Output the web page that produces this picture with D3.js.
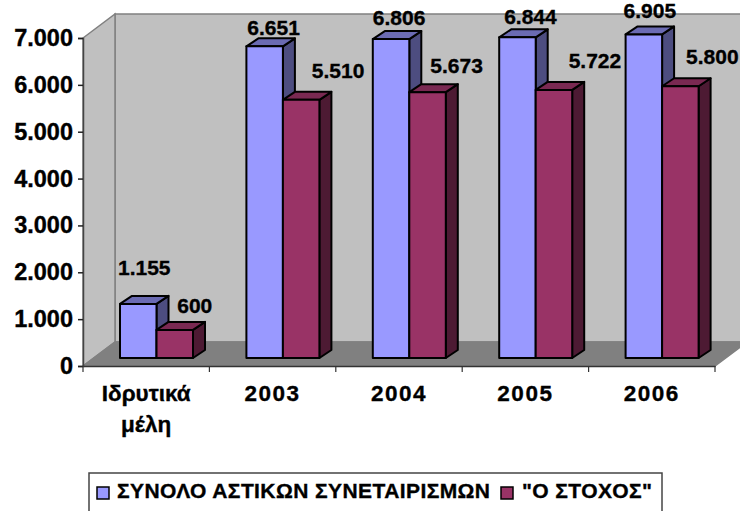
<!DOCTYPE html>
<html>
<head>
<meta charset="utf-8">
<script src="https://cdn.jsdelivr.net/npm/d3@7"></script>
<style>
    html, body { margin: 0; padding: 0; background: #fff; overflow: hidden; }
    svg { display: block; }
    text { font-family: "Liberation Sans", Arial, sans-serif; font-weight: bold; fill: #000; stroke: #000; stroke-width: 0.35px; }
</style>
</head>
<body>
<div id="chart"></div>
<script>
    const categories = ["Ιδρυτικά μέλη", "2003", "2004", "2005", "2006"];
    const seriesNames = ["ΣΥΝΟΛΟ ΑΣΤΙΚΩΝ ΣΥΝΕΤΑΙΡΙΣΜΩΝ", "\"Ο ΣΤΟΧΟΣ\""];
    const totalValues = [1155, 6651, 6806, 6844, 6905];
    const targetValues = [600, 5510, 5673, 5722, 5800];
    const yTicks = [0, 1000, 2000, 3000, 4000, 5000, 6000, 7000];

    const colors = [
        { front: "#9999ff", top: "#6b6bb3", side: "#4d4d80" },
        { front: "#993366", top: "#7a2952", side: "#4d1a33" }
    ];

    const width = 740, height = 511;
    const margin = { top: 38, right: 25, bottom: 145, left: 83 };
    const fmt = v => d3.format(",")(v).replace(/,/g, ".");

    const svg = d3.select("#chart").append("svg")
        .attr("width", width)
        .attr("height", height);

    const x = d3.scaleBand()
        .domain(categories)
        .range([margin.left, width - margin.right]);

    const inner = d3.scaleBand()
        .domain([0, 1])
        .range([0, 73]);

    const y = d3.scaleLinear()
        .domain([0, 7000])
        .range([height - margin.bottom, margin.top]);

    // walls and floor of the 3d box
    const wallDx = 32, wallDy = 24;
    const x0 = x.range()[0], x1 = x.range()[1], y0 = y(0), yTop = y(7000);
    const poly = (pts, fill, stroke) => svg.append("polygon")
        .attr("points", pts.map(p => p.join(",")).join(" "))
        .attr("fill", fill)
        .attr("stroke", stroke || "none")
        .attr("stroke-width", 1.5);

    poly([[x0 + wallDx, yTop - wallDy], [x1 + wallDx, yTop - wallDy], [x1 + wallDx, y0 - wallDy], [x0 + wallDx, y0 - wallDy]], "#c0c0c0", "#808080");
    poly([[x0, yTop], [x0 + wallDx, yTop - wallDy], [x0 + wallDx, y0 - wallDy], [x0, y0]], "#c0c0c0", "#808080");
    poly([[x0, y0], [x0 + wallDx, y0 - wallDy], [x1 + wallDx, y0 - wallDy], [x1, y0]], "#808080", "#808080");

    // axes
    const yAxis = svg.append("g")
        .attr("transform", `translate(${x0},0)`)
        .call(d3.axisLeft(y).tickValues(yTicks).tickFormat(fmt).tickSize(5).tickPadding(5));
    yAxis.select(".domain").attr("stroke", "#444").attr("stroke-width", 1.5);
    yAxis.selectAll(".tick line").attr("stroke", "#222").attr("stroke-width", 1.5);
    yAxis.selectAll("text").style("font-size", "23.5px").attr("font-family", null);

    const xAxis = svg.append("g")
        .attr("transform", `translate(0,${y0})`)
        .call(d3.axisBottom(x).tickValues([]).tickSizeOuter(0));
    xAxis.select(".domain").attr("stroke", "#333").attr("stroke-width", 1.5);
    svg.selectAll(".xtick")
        .data(x.domain().concat("end"))
        .enter().append("line")
        .attr("class", "xtick")
        .attr("x1", d => d === "end" ? x1 : x(d))
        .attr("x2", d => d === "end" ? x1 : x(d))
        .attr("y1", y0)
        .attr("y2", y0 + 6)
        .attr("stroke", "#333")
        .attr("stroke-width", 1.2);

    // category labels, the first one wraps on two lines
    categories.forEach((c, ci) => {
        const t = svg.append("text")
            .attr("text-anchor", "middle")
            .attr("x", x(c) + x.bandwidth() / 2)
            .attr("y", 401)
            .style("font-size", "22.5px")
            .style("letter-spacing", ci ? "1.5px" : null);
        c.split(" ").forEach((w, i) => {
            t.append("tspan")
                .attr("x", x(c) + x.bandwidth() / 2)
                .attr("dy", i ? 31 : 0)
                .text(w);
        });
    });

    // bars
    const barDx = 12, barDy = 8, groupX = 37, floorY = 8;
    const baseY = y0 - floorY;
    const barH = v => y(0) - y(v);

    const drawBar = (cat, s, v) => {
        const bx = x(cat) + groupX + inner(s);
        const bw = inner.bandwidth();
        const by = baseY - barH(v);
        const c = colors[s];
        const g = svg.append("g").attr("stroke", "#000").attr("stroke-width", 2).attr("stroke-linejoin", "round");
        g.append("polygon")
            .attr("points", [[bx + bw, by], [bx + bw + barDx, by - barDy], [bx + bw + barDx, baseY - barDy], [bx + bw, baseY]].join(" "))
            .attr("fill", c.side);
        g.append("polygon")
            .attr("points", [[bx, by], [bx + barDx, by - barDy], [bx + bw + barDx, by - barDy], [bx + bw, by]].join(" "))
            .attr("fill", c.top);
        g.append("rect")
            .attr("x", bx).attr("y", by)
            .attr("width", bw).attr("height", baseY - by)
            .attr("fill", c.front);
    };

    categories.forEach((c, i) => {
        drawBar(c, 0, totalValues[i]);
        drawBar(c, 1, targetValues[i]);
    });

    // value labels sit where the original chart left them, nudged from the bar top
    const labelNudge = [
        [[6, -29], [9, -11], [8, -14], [13, -13], [6, -16]],
        [[20, -17], [37, -22], [29, -19], [41, -22], [32, -22]]
    ];
    [totalValues, targetValues].forEach((vals, s) => {
        vals.forEach((v, i) => {
            const c = categories[i];
            svg.append("text")
                .attr("text-anchor", "middle")
                .attr("x", x(c) + groupX + inner(s) + inner.bandwidth() / 2 + labelNudge[s][i][0])
                .attr("y", baseY - barH(v) + labelNudge[s][i][1])
                .style("font-size", "21px")
                .text(fmt(v));
        });
    });

    // legend, its bottom edge falls off the picture
    const legend = svg.append("g");
    legend.append("rect")
        .attr("x", 89).attr("y", 473)
        .attr("width", 573).attr("height", 50)
        .attr("fill", "#fff").attr("stroke", "#444").attr("stroke-width", 1.5);
    const legendItems = [
        { box: 97, text: 117, len: 373 },
        { box: 501, text: 522, len: 130 }
    ];
    seriesNames.forEach((name, i) => {
        legend.append("rect")
            .attr("x", legendItems[i].box).attr("y", 487)
            .attr("width", 12).attr("height", 12)
            .attr("fill", colors[i].front).attr("stroke", "#000").attr("stroke-width", 1.5);
        legend.append("text")
            .attr("x", legendItems[i].text).attr("y", 498)
            .attr("textLength", legendItems[i].len)
            .attr("lengthAdjust", "spacing")
            .style("font-size", "21px")
            .text(name);
    });
</script>
</body>
</html>
